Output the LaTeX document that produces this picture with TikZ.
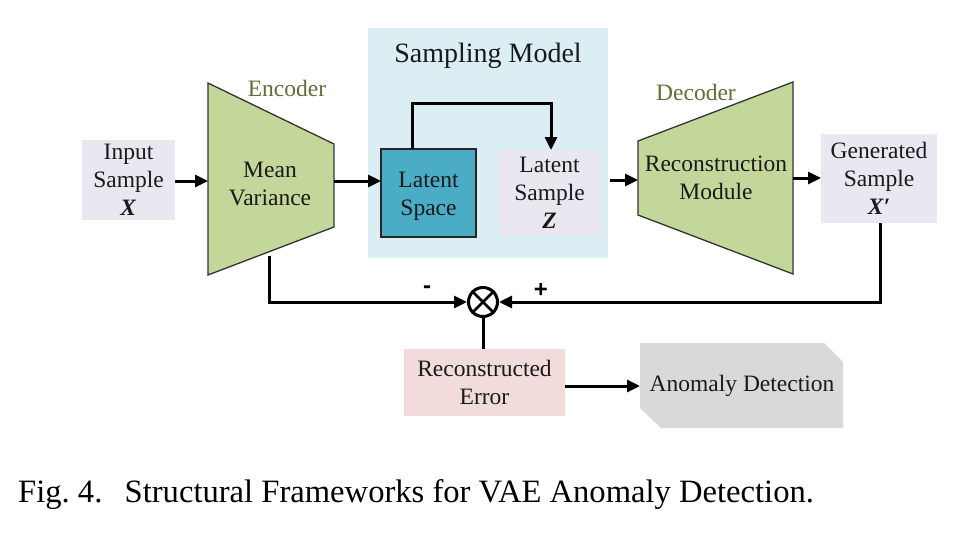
\documentclass[tikz,border=0pt]{standalone}
\usepackage{fontspec}
\setmainfont{Liberation Serif}
\newfontfamily\signfont{Liberation Sans}
\usetikzlibrary{arrows.meta}
\definecolor{boxlav}{HTML}{EBE7F0}
\definecolor{trapgreen}{HTML}{C4D79B}
\definecolor{sampblue}{HTML}{DAEEF3}
\definecolor{latteal}{HTML}{4BACC6}
\definecolor{errpink}{HTML}{F2DCDB}
\definecolor{anogray}{HTML}{D9D9D9}
\definecolor{olivetxt}{HTML}{5E7036}
\definecolor{txtdark}{HTML}{1A1A1A}
\tikzset{
  lbl/.style={font=\fontsize{23.5}{28}\selectfont, text=txtdark, align=center, inner sep=0pt},
  trap/.style={fill=trapgreen, draw=black!80, line width=1.3pt, line join=miter},
  conn/.style={line width=3pt, -{Triangle[length=13pt,width=12pt]}},
  plain/.style={line width=3pt},
  titlelbl/.style={font=\fontsize{23.5}{28}\selectfont, text=olivetxt, inner sep=0pt},
  signlbl/.style={font=\signfont\bfseries\fontsize{24}{26}\selectfont, inner sep=0pt}
}
\begin{document}
\begin{tikzpicture}[x=1pt,y=-1pt]
\useasboundingbox (0,0) rectangle (964,538);

% Sampling model background
\fill[sampblue] (368,28) rectangle (608,258);
\node[font=\fontsize{28}{32}\selectfont, text=txtdark, inner sep=0pt] (samptitle) at (488,56) {Sampling Model};

% Input sample
\fill[boxlav] (82,140) rectangle (175,220);
\node[lbl] (inp) at (128.5,180) {Input\\Sample\\\textbf{\textit{X}}};
\coordinate (inpE) at (175,181);

% Encoder trapezoid
\draw[trap] (208,83) -- (334,144) -- (334,227) -- (208,275) -- cycle;
\node[titlelbl] (enclbl) at (287,88) {Encoder};
\node[lbl] (enc) at (270,184) {Mean\\Variance};
\coordinate (encW) at (208,181);
\coordinate (encE) at (334,181);
\coordinate (encS) at (269,256);

% Latent space
\draw[fill=latteal, draw=black!85, line width=1.3pt] (381,149) rectangle (476,237);
\node[lbl] (lspace) at (428.5,196) {Latent\\Space};
\coordinate (lspW) at (381,181);
\coordinate (lspN) at (412,149);
\coordinate (lspTop) at (412,103);

% Latent sample
\fill[boxlav] (498,150) rectangle (601,235);
\node[lbl] (lsamp) at (549.5,193) {Latent\\Sample\\\textbf{\textit{Z}}};
\coordinate (lsaN) at (551,150);
\coordinate (lsaTop) at (551,103);
\coordinate (sampE) at (610,180);

% Decoder trapezoid
\draw[trap] (638,141) -- (793,82) -- (793,274) -- (638,215) -- cycle;
\node[titlelbl] (declbl) at (696,92) {Decoder};
\node[lbl] (dec) at (716,178) {Reconstruction\\Module};
\coordinate (decW) at (638,180);
\coordinate (decE) at (793,178);

% Generated sample
\fill[boxlav] (821,134) rectangle (937,223);
\node[lbl] (gen) at (879,178) {Generated\\Sample\\\textbf{\textit{X′}}};
\coordinate (genW) at (821,178);
\coordinate (genS) at (880,223);

% Comparator
\node[circle, draw=black, line width=3pt, minimum size=29pt, inner sep=0pt] (cmp) at (483,302) {};
\draw[line width=2.5pt] (cmp.north west) -- (cmp.south east) (cmp.north east) -- (cmp.south west);
\coordinate (leftCorner) at (269,302);
\coordinate (rightCorner) at (880,302);
\node[signlbl] (minus) at (427,290) {-};
\node[signlbl] (plus) at (541,290) {+};

% Reconstructed error
\fill[errpink] (404,349) rectangle (565,416);
\node[lbl] (err) at (484.5,382) {Reconstructed\\Error};
\coordinate (errN) at (483,349);
\coordinate (errE) at (565,386);

% Anomaly detection
\fill[anogray] (640,343) -- (824,343) -- (843,362) -- (843,428) -- (661,428) -- (640,408) -- cycle;
\node[lbl] (ano) at (742,386) {Anomaly Detection};
\coordinate (anoW) at (640,386);

% Connectors
\draw[conn] (inpE) -- (encW);
\draw[conn] (encE) -- (lspW);
\draw[conn] (lspN) -- (lspTop) -- (lsaTop) -- (lsaN);
\draw[conn] (sampE) -- (decW);
\draw[conn] (decE) -- (genW);
\draw[conn] (encS) -- (leftCorner) -- (cmp.west);
\draw[conn] (genS) -- (rightCorner) -- (cmp.east);
\draw[plain] (cmp.south) -- (errN);
\draw[conn] (errE) -- (anoW);

% Caption
\node[anchor=base west, font=\fontsize{32.6}{36}\selectfont, inner sep=0pt] (cap) at (18,502) {Fig.~4.\hspace{0.35em} Structural Frameworks for VAE Anomaly Detection.};
\end{tikzpicture}
\end{document}
